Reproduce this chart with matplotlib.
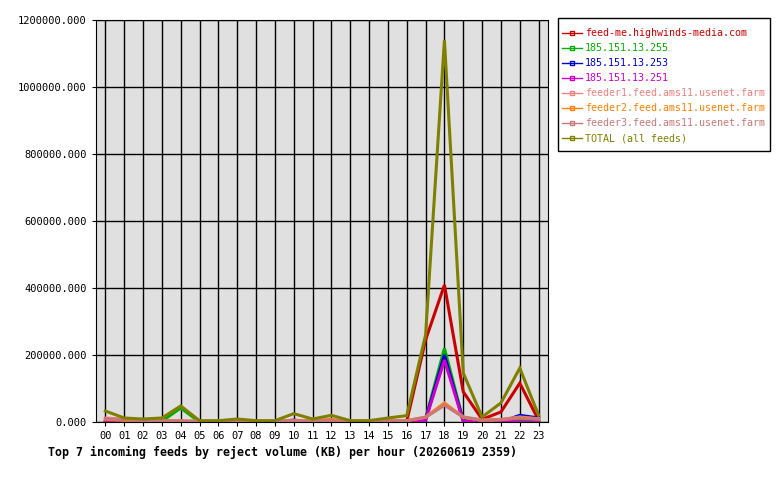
import matplotlib
matplotlib.use('Agg')
import matplotlib.pyplot as plt
from matplotlib.lines import Line2D
from matplotlib.patches import Rectangle
from matplotlib.ticker import FormatStrFormatter

plt.rcParams['font.family'] = 'DejaVu Sans Mono'

hours = ['%02d' % h for h in range(24)]

# reject volume (KB) per hour
highwinds = [0, 0, 0, 0, 0, 0, 0, 0, 0, 0, 0, 0, 0, 0, 0, 0, 2000, 245000, 409000, 90000, 8000, 30000, 116000, 5000]
ip255 = [0, 0, 0, 2000, 42000, 0, 0, 0, 0, 0, 0, 0, 0, 0, 0, 0, 0, 10000, 220000, 5000, 0, 0, 5000, 2000]
ip253 = [0, 0, 0, 0, 0, 0, 0, 0, 0, 0, 0, 0, 0, 0, 0, 0, 3000, 8000, 200000, 3000, 0, 0, 20000, 12000]
ip251 = [3000, 0, 0, 0, 0, 0, 0, 0, 0, 0, 6000, 0, 0, 0, 0, 0, 0, 5000, 185000, 2000, 0, 3000, 0, 0]
feeder1 = [12000, 8000, 4000, 4000, 3000, 2000, 2000, 3000, 2000, 2000, 4000, 3000, 5000, 2000, 2000, 3000, 4000, 15000, 57000, 15000, 6000, 8000, 15000, 10000]
feeder2 = [8000, 5000, 3000, 5000, 3000, 2000, 2000, 3000, 2000, 2000, 4000, 4000, 8000, 2000, 2000, 3000, 4000, 14000, 55000, 14000, 5000, 7000, 13000, 9000]
feeder3 = [10000, 7000, 4000, 4000, 3000, 2000, 2000, 3000, 2000, 2000, 4000, 3000, 5000, 2000, 2000, 3000, 4000, 14000, 50000, 15000, 5000, 7000, 12000, 9000]
total = [33000, 12000, 9000, 12000, 48000, 4000, 4000, 9000, 4000, 4000, 25000, 9000, 20000, 4000, 4000, 12000, 19000, 260000, 1140000, 146000, 15000, 57000, 161000, 20000]

names = ['feed-me.highwinds-media.com', '185.151.13.255', '185.151.13.253',
         '185.151.13.251', 'feeder1.feed.ams11.usenet.farm',
         'feeder2.feed.ams11.usenet.farm', 'feeder3.feed.ams11.usenet.farm',
         'TOTAL (all feeds)']
series = [highwinds, ip255, ip253, ip251, feeder1, feeder2, feeder3, total]
colors = ['#cc0000', '#00b000', '#0000cc', '#cc00cc', '#f08080', '#ff8000', '#c87878', '#808000']

fig = plt.figure(figsize=(7.8, 4.8), dpi=100)
ax = fig.add_axes([0.123, 0.1208, 0.5796, 0.8375])
ax.set_facecolor('#e0e0e0')

x = list(range(24))
for vals, c in zip(series, colors):
    ax.plot(x, vals, color=c, lw=2.2, solid_joinstyle='miter')

ax.set_xlim(-0.5, 23.5)
ax.set_ylim(0, 1200000)
ax.set_xticks(x)
ax.set_xticklabels(hours)
ax.set_yticks(range(0, 1200001, 200000))
ax.yaxis.set_major_formatter(FormatStrFormatter('%.3f'))
ax.grid(True, color='black', lw=1)
ax.set_axisbelow(True)
ax.tick_params(labelsize=7.5, length=3, color='black')
for s in ax.spines.values():
    s.set_color('black')

# legend box drawn separately: wide top/bottom padding, narrow sides
fig.patches.append(Rectangle((558 / 780, 1 - 151 / 480), 212 / 780, 133 / 480,
                             transform=fig.transFigure, fill=False,
                             edgecolor='black', lw=1))
handles = [Line2D([0], [0], color=c, lw=1, marker='s', markersize=2.5,
                  markerfacecolor='none', markeredgecolor=c) for c in colors]
leg = fig.legend(handles, names, loc='upper left', bbox_to_anchor=(0.7154, 0.949),
                 fontsize=7.2, frameon=False,
                 handlelength=2.0, handletextpad=0.3, labelspacing=0.5,
                 borderpad=0.4, borderaxespad=0)
for t, c in zip(leg.get_texts(), colors):
    t.set_color(c)

fig.text(0.362, 0.058, 'Top 7 incoming feeds by reject volume (KB) per hour (20260619 2359)',
         ha='center', va='center', fontsize=8.4, fontweight='bold')

fig.savefig('out.png', dpi=100)
